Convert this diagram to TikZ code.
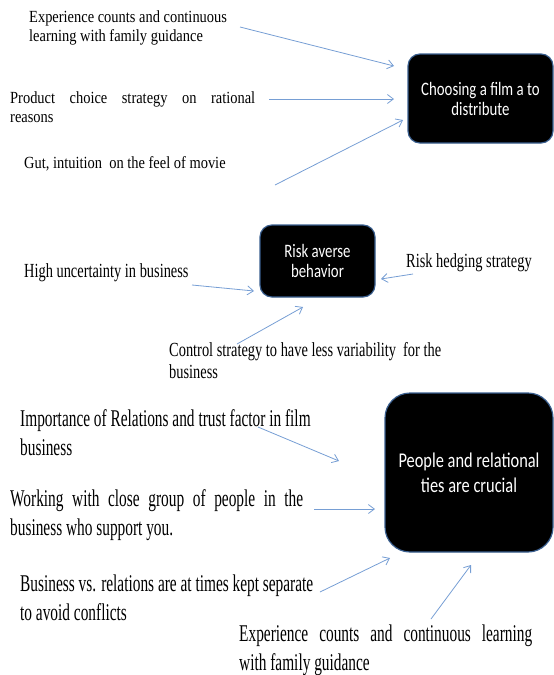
\documentclass[tikz,border=0pt]{standalone}
\usepackage{fontspec}
\usepackage{tikz}
\usetikzlibrary{arrows.meta}
\newfontfamily\topfont[FakeStretch=0.85]{Liberation Serif}
\newfontfamily\midfont[FakeStretch=0.72]{Liberation Serif}
\newfontfamily\lowfont[FakeStretch=0.64]{Liberation Serif}
\newfontfamily\boxfont[FakeStretch=0.78]{Carlito}
\definecolor{arrowblue}{RGB}{118,158,212}
\definecolor{boxblue}{RGB}{58,95,143}
\tikzset{
  toptext/.style = {anchor=west, inner sep=0pt, align=left,
    font=\topfont\fontsize{17}{19}\selectfont},
  midtext/.style = {anchor=west, inner sep=0pt, align=left,
    font=\midfont\fontsize{20}{22}\selectfont},
  lowtext/.style = {anchor=west, inner sep=0pt, align=left,
    font=\lowfont\fontsize{24}{29}\selectfont},
  justtext/.style = {align=justify, text width=#1},
  darkbox/.style = {draw=boxblue, line width=1.2pt, fill=black, text=white,
    rounded corners=12pt, align=center, inner sep=0pt,
    font=\boxfont\fontsize{19}{20}\selectfont},
  feed/.style = {draw=arrowblue, line width=0.8pt,
    -{Straight Barb[length=6pt,width=9pt]}}
}

\begin{document}
\begin{tikzpicture}[x=1pt,y=-1pt]
\useasboundingbox (0,0) rectangle (554,675);
% choosing a film
\node[darkbox, minimum width=145pt, minimum height=89pt] (film) at (480.5,98.5)
  {Choosing a film a to\\distribute};
\node[toptext] (exper) at (29,28) {Experience counts and continuous\\learning with family guidance};
\node[toptext, justtext=245pt] (product) at (10,107.5)
  {Product choice strategy on rational\linebreak reasons};
\node[toptext] (gut) at (24,164) {Gut, intuition~ on the feel of movie};
\coordinate (f1s) at (240,27);  \coordinate (f1e) at (394,66);
\coordinate (f2s) at (269,99);  \coordinate (f2e) at (394,99);
\coordinate (f3s) at (275,185); \coordinate (f3e) at (403,120);
\draw[feed] (f1s) -- (f1e);
\draw[feed] (f2s) -- (f2e);
\draw[feed] (f3s) -- (f3e);
% risk averse
\node[darkbox, minimum width=115pt, minimum height=72pt] (risk) at (317.5,261)
  {Risk averse\\behavior};
\node[midtext] (uncert) at (24,273) {High uncertainty in business};
\node[midtext] (hedge) at (406,263) {Risk hedging strategy};
\node[midtext] (control) at (169,361)
  {Control strategy to have less variability~ for the\\business};
\coordinate (r1s) at (192,285); \coordinate (r1e) at (254,291);
\coordinate (r2s) at (413,274); \coordinate (r2e) at (381,279);
\coordinate (r3s) at (237,344); \coordinate (r3e) at (303,307);
\draw[feed] (r1s) -- (r1e);
\draw[feed] (r2s) -- (r2e);
\draw[feed] (r3s) -- (r3e);
% people and relations
\node[darkbox, rounded corners=25pt, font=\boxfont\fontsize{21}{25}\selectfont,
  minimum width=168pt, minimum height=159pt] (people) at (469,472.5)
  {People and relational\\ties are crucial};
\node[lowtext] (trust) at (20,432.5)
  {Importance of Relations and trust factor in film\\business};
\node[lowtext, justtext=293pt] (group) at (10,515)
  {Working with close group of people in the\linebreak business who support you.};
\node[lowtext] (separate) at (20,597.5)
  {Business vs. relations are at times kept separate\\to avoid conflicts};
\node[lowtext, justtext=293pt] (family) at (239,650)
  {Experience counts and continuous learning\linebreak with family guidance};
\coordinate (p1s) at (258,427); \coordinate (p1e) at (339,461);
\coordinate (p2s) at (314,509); \coordinate (p2e) at (375,509);
\coordinate (p3s) at (320,592); \coordinate (p3e) at (390,558);
\coordinate (p4s) at (431,619); \coordinate (p4e) at (471,565);
\draw[feed] (p1s) -- (p1e);
\draw[feed] (p2s) -- (p2e);
\draw[feed] (p3s) -- (p3e);
\draw[feed] (p4s) -- (p4e);
\end{tikzpicture}
\end{document}
